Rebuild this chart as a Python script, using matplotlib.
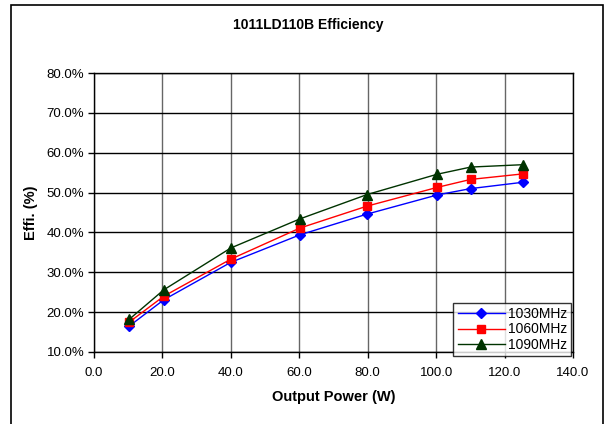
import matplotlib.pyplot as plt
from matplotlib.patches import Rectangle
from matplotlib.ticker import FuncFormatter, MultipleLocator

plt.rcParams['font.family'] = ['Liberation Sans', 'DejaVu Sans']

# Datos
potencia = [10.3, 20.4, 40.0, 60.2, 79.8, 100.3, 110.1, 125.5]
efi_1030 = [16.5, 23.1, 32.5, 39.4, 44.6, 49.4, 51.0, 52.6]
efi_1060 = [17.5, 24.0, 33.3, 41.1, 46.6, 51.3, 53.3, 54.7]
efi_1090 = [18.2, 25.6, 36.1, 43.4, 49.5, 54.6, 56.4, 57.0]
series = ["1030MHz", "1060MHz", "1090MHz"]

fig = plt.figure(figsize=(6.05, 4.24), dpi=100)
ax = fig.add_axes([94/605, 1-352/424, (573-94)/605, (352-73)/424])

ax.plot(potencia, efi_1030, color='#0000FF', marker='D', markersize=5, lw=1, label=series[0])
ax.plot(potencia, efi_1060, color='#FF0000', marker='s', markersize=6, lw=1, label=series[1])
ax.plot(potencia, efi_1090, color='#003300', marker='^', markersize=6.5, lw=1, label=series[2])

ax.set_xlim(0, 140)
ax.set_ylim(10, 80)
ax.xaxis.set_major_locator(MultipleLocator(20))
ax.yaxis.set_major_locator(MultipleLocator(10))
ax.xaxis.set_major_formatter(FuncFormatter(lambda v, p: f"{v:.1f}"))
ax.yaxis.set_major_formatter(FuncFormatter(lambda v, p: f"{v:.1f}%"))
ax.tick_params(axis='both', labelsize=9.5, length=4, width=1, color='black', pad=3)
ax.tick_params(axis='x', pad=7)

ax.grid(axis='y', color='black', lw=1)
ax.grid(axis='x', color='#666666', lw=1)
ax.set_axisbelow(True)
for s in ax.spines.values():
    s.set_color('black')
    s.set_linewidth(1)

fig.text(308/605, 1-25/424, "1011LD110B Efficiency", ha='center', va='center',
         fontsize=10, fontweight='bold')
ax.set_xlabel("Output Power (W)", fontsize=10.5, fontweight='bold', labelpad=8)
ax.set_ylabel("Effi. (%)", fontsize=10.5, fontweight='bold', labelpad=6)

leg = ax.legend(loc='lower right', bbox_to_anchor=(571/605, 1-356/424),
                bbox_transform=fig.transFigure, fontsize=10, frameon=True,
                fancybox=False, borderpad=0.3, labelspacing=0.1,
                handlelength=3.4, handletextpad=0.2, borderaxespad=0)
leg.get_frame().set_edgecolor('black')
leg.get_frame().set_linewidth(1)

# Borde exterior del gráfico
fig.patches.append(Rectangle((11/605, -0.05), (603-11)/605, 1.05-5/424,
                             transform=fig.transFigure, fill=False,
                             edgecolor='black', lw=1.2))

fig.savefig("out.png", dpi=100)
